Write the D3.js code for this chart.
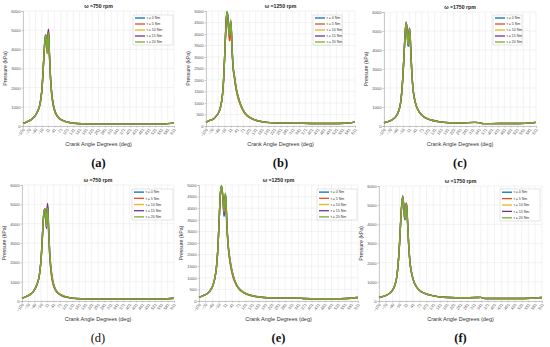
<!DOCTYPE html>
<html>
<head>
<meta charset="utf-8">
<script src="https://cdn.jsdelivr.net/npm/d3@7"></script>
<style>
  body { margin: 0; background: #fff; }
  text { font-family: "Liberation Sans", Arial, sans-serif; }
</style>
</head>
<body>
<div id="chart"></div>
<script>
// crank angle samples (deg), shared by every panel
var crank = [-109,-90,-70,-55,-45,-37,-30,-24,-18,-13,-8,-4,0,4,7,10,13,17,22,28,36,46,60,80,110,150,200,260,320,340,360,440,500,560,611];
var xTicks = [-109,-79,-49,-19,11,41,71,101,131,161,191,221,251,281,311,341,371,401,431,461,491,521,551,581,611];
var torques = ["\u03c4 = 0 Nm", "\u03c4 = 5 Nm", "\u03c4 = 10 Nm", "\u03c4 = 15 Nm", "\u03c4 = 20 Nm"];
var colors = ["#0072BD", "#D95319", "#EDB120", "#7E2F8E", "#77AC30"];

// (a) 750 rpm
var a_t0  = [140,220,330,480,640,820,1050,1400,2000,2900,3900,4500,4720,4250,3780,4550,4900,3700,2500,1650,1050,680,440,290,185,130,110,105,110,105,100,100,100,105,150];
var a_t5  = [140,220,330,480,640,820,1050,1400,2000,2900,3900,4500,4700,4200,3800,4650,4950,3650,2450,1600,1000,650,420,280,180,125,110,105,110,105,100,100,100,105,150];
var a_t10 = [140,220,330,480,640,820,1050,1400,2000,2900,3900,4520,4730,4280,3820,4600,4900,3750,2550,1680,1080,690,445,295,188,130,110,105,110,105,100,100,100,105,150];
var a_t15 = [140,220,330,480,640,820,1050,1400,2000,2900,3900,4560,4760,4350,3900,4800,5050,3850,2600,1700,1100,700,450,300,190,130,110,105,110,105,100,100,100,105,150];
var a_t20 = [140,220,330,480,640,820,1050,1400,2000,2900,3900,4550,4750,4300,3850,4600,4850,3800,2600,1700,1100,700,450,300,190,130,110,105,110,105,100,100,100,105,150];

// (b) 1250 rpm
var b_t0  = [170,240,330,480,640,900,1300,2000,3200,4300,4950,4800,4300,3900,4150,4550,4250,3350,2550,2150,1650,1250,870,540,330,205,145,130,140,135,120,110,110,120,170];
var b_t5  = [170,240,330,480,640,900,1300,2000,3200,4300,4940,4780,4200,3700,3750,4500,4200,3300,2500,2100,1600,1200,850,530,325,200,145,130,140,135,120,110,110,120,170];
var b_t10 = [170,240,330,480,640,900,1300,2000,3200,4300,4950,4800,4300,3950,4200,4580,4280,3380,2580,2180,1680,1280,880,550,335,208,145,130,140,135,120,110,110,120,170];
var b_t15 = [170,240,330,480,640,900,1300,2000,3200,4300,4960,4810,4320,3950,4200,4600,4300,3400,2600,2200,1700,1300,900,560,340,210,145,130,140,135,120,110,110,120,170];
var b_t20 = [170,240,330,480,640,900,1300,2000,3200,4300,4980,4820,4320,3950,4200,4600,4300,3400,2600,2200,1700,1300,900,560,340,210,145,130,140,135,120,110,110,120,170];

// (c) 1750 rpm
var c_t0  = [170,230,330,470,640,880,1250,1900,2900,4000,5000,5400,5050,4250,4200,4950,5050,4150,2950,2000,1400,1000,700,480,330,230,170,160,190,180,125,130,130,140,190];
var c_t5  = [170,230,330,470,640,880,1250,1900,2900,4000,5000,5420,5080,4350,4300,5000,5080,4200,3000,2000,1400,1000,700,480,330,230,170,160,190,180,125,130,130,140,190];
var c_t10 = [170,230,330,470,640,880,1250,1900,2900,4000,5000,5430,5090,4400,4300,5000,5100,4200,3000,2000,1400,1000,700,480,330,230,170,160,190,180,125,130,130,140,190];
var c_t15 = [170,230,330,470,640,880,1250,1900,2900,4000,5000,5480,5120,4450,4350,5050,5150,4250,3000,2000,1400,1000,700,480,330,230,170,160,190,180,125,130,130,140,190];
var c_t20 = [170,230,330,470,640,880,1250,1900,2900,4000,5000,5450,5100,4400,4300,5000,5100,4200,3000,2000,1400,1000,700,480,330,230,170,160,190,180,125,130,130,140,190];

// (d) 750 rpm
var d_t0  = [150,230,340,500,680,880,1150,1550,2250,3200,4200,4650,4750,4100,3750,4500,4850,3650,2450,1600,1000,650,420,280,180,125,110,105,110,105,110,100,100,105,140];
var d_t5  = [150,230,340,500,680,880,1150,1550,2250,3200,4200,4640,4730,4150,3850,4600,4900,3600,2400,1550,980,630,410,270,175,125,110,105,110,105,110,100,100,105,140];
var d_t10 = [150,230,340,500,680,880,1150,1550,2250,3200,4200,4650,4740,4200,3900,4600,4880,3700,2500,1650,1050,670,430,285,182,128,110,105,110,105,110,100,100,105,140];
var d_t15 = [150,230,340,500,680,880,1150,1550,2250,3200,4200,4680,4780,4300,3950,4800,5050,3800,2550,1700,1080,690,440,295,188,130,110,105,110,105,110,100,100,105,140];
var d_t20 = [150,230,340,500,680,880,1150,1550,2250,3200,4200,4680,4780,4300,3950,4600,4800,3800,2600,1750,1100,700,450,300,190,130,110,105,110,105,110,100,100,105,140];

// (e) 1250 rpm
var e_t0  = [160,230,330,500,700,1000,1450,2200,3400,4500,4950,4750,4300,3650,3800,4500,4300,3350,2500,1950,1450,1050,700,450,290,190,140,125,130,140,110,100,100,110,150];
var e_t5  = [160,230,330,500,700,1000,1450,2200,3400,4500,4940,4760,4320,3800,4000,4550,4300,3300,2450,1900,1400,1000,680,440,280,185,140,125,130,140,110,100,100,110,150];
var e_t10 = [160,230,330,500,700,1000,1450,2200,3400,4500,4950,4780,4350,3900,4100,4600,4350,3380,2520,1970,1470,1060,710,455,292,192,140,125,130,140,110,100,100,110,150];
var e_t15 = [160,230,330,500,700,1000,1450,2200,3400,4500,4960,4790,4360,3950,4150,4620,4370,3400,2550,2000,1500,1080,720,460,295,195,140,125,130,140,110,100,100,110,150];
var e_t20 = [160,230,330,500,700,1000,1450,2200,3400,4500,4980,4800,4380,3950,4150,4650,4380,3420,2580,2020,1520,1100,730,470,300,195,140,125,130,140,110,100,100,110,150];

// (f) 1750 rpm
var f_t0  = [180,240,340,480,650,900,1300,2000,3050,4200,5100,5400,4950,4250,4250,4950,5000,4100,2900,2000,1400,980,680,470,330,230,180,170,180,190,130,130,130,140,180];
var f_t5  = [180,240,340,480,650,900,1300,2000,3050,4200,5100,5420,4980,4350,4300,5000,5050,4150,2950,2000,1400,980,680,470,330,230,180,170,180,190,130,130,130,140,180];
var f_t10 = [180,240,340,480,650,900,1300,2000,3050,4200,5100,5430,5000,4400,4350,5000,5080,4180,2980,2000,1400,980,680,470,330,230,180,170,180,190,130,130,130,140,180];
var f_t15 = [180,240,340,480,650,900,1300,2000,3050,4200,5100,5500,5050,4450,4400,5050,5100,4200,3000,2000,1400,980,680,470,330,230,180,170,180,190,130,130,130,140,180];
var f_t20 = [180,240,340,480,650,900,1300,2000,3050,4200,5100,5450,5020,4400,4350,5000,5050,4200,3000,2000,1400,980,680,470,330,230,180,170,180,190,130,130,130,140,180];

var panels = [
    {cap: "(a)", title: "\u03c9 =750 rpm",  ymax: 6000, ystep: 1000, series: [a_t0, a_t5, a_t10, a_t15, a_t20]},
    {cap: "(b)", title: "\u03c9 =1250 rpm", ymax: 5000, ystep: 500,  series: [b_t0, b_t5, b_t10, b_t15, b_t20]},
    {cap: "(c)", title: "\u03c9 =1750 rpm", ymax: 6000, ystep: 1000, series: [c_t0, c_t5, c_t10, c_t15, c_t20]},
    {cap: "(d)", title: "\u03c9 =750 rpm",  ymax: 6000, ystep: 1000, series: [d_t0, d_t5, d_t10, d_t15, d_t20]},
    {cap: "(e)", title: "\u03c9 =1250 rpm", ymax: 5000, ystep: 500,  series: [e_t0, e_t5, e_t10, e_t15, e_t20]},
    {cap: "(f)", title: "\u03c9 =1750 rpm", ymax: 6000, ystep: 1000, series: [f_t0, f_t5, f_t10, f_t15, f_t20]}
];

// plot boxes [left, right, top, bottom] and legend boxes [x, y, w, h]
var boxes = [
    [23, 174, 11, 126], [206, 355, 11, 126], [384, 536, 12, 126],
    [22, 174, 185, 301], [199, 358, 185, 301], [379, 542, 186, 301]
];
var legendBoxes = [
    [133, 15, 40, 30], [313, 15, 29, 30], [493, 15, 29, 30],
    [132, 189, 41, 31], [317, 189, 40, 31], [500, 189, 40, 32]
];
var capBold = [true, true, true, false, true, true];

var svg = d3.select("#chart").append("svg")
    .attr("width", 550).attr("height", 347);

panels.forEach(function(p, i) {
    var b = boxes[i];
    var x = d3.scaleLinear().domain([-109, 611]).range([b[0], b[1]]);
    var y = d3.scaleLinear().domain([0, p.ymax]).range([b[3], b[2]]);
    var yTicks = d3.range(0, p.ymax + 1, p.ystep);
    var g = svg.append("g");

    // grid
    g.append("g").selectAll("line").data(xTicks).enter().append("line")
        .attr("x1", function(d) { return x(d); }).attr("x2", function(d) { return x(d); })
        .attr("y1", b[2]).attr("y2", b[3])
        .attr("stroke", "#e6e6e6").attr("stroke-width", 0.5);
    g.append("g").selectAll("line").data(yTicks).enter().append("line")
        .attr("y1", function(d) { return y(d); }).attr("y2", function(d) { return y(d); })
        .attr("x1", b[0]).attr("x2", b[1])
        .attr("stroke", "#e6e6e6").attr("stroke-width", 0.5);

    // axes
    var xAxis = d3.axisBottom(x).tickValues(xTicks).tickSize(1.5).tickFormat(d3.format("d"));
    var yAxis = d3.axisLeft(y).tickValues(yTicks).tickSize(1.5).tickFormat(d3.format("d"));
    var gx = g.append("g").attr("transform", "translate(0," + b[3] + ")").call(xAxis);
    var gy = g.append("g").attr("transform", "translate(" + b[0] + ",0)").call(yAxis);
    [gx, gy].forEach(function(ax) {
        ax.select(".domain").attr("stroke", "#9a9a9a").attr("stroke-width", 0.5);
        ax.selectAll(".tick line").attr("stroke", "#9a9a9a").attr("stroke-width", 0.5);
        ax.selectAll(".tick text").attr("fill", "#555").style("font-size", "4.2px")
            .style("font-family", "'Liberation Sans', Arial, sans-serif");
    });
    gy.selectAll(".tick text").attr("x", -2.5);
    gx.selectAll(".tick text")
        .attr("text-anchor", "end").attr("dy", 0).attr("y", 0)
        .attr("transform", "translate(1.5,3.5) rotate(-55)");

    // curves, first series underneath
    var line = d3.line()
        .x(function(d, k) { return x(crank[k]); })
        .y(function(d) { return y(d); })
        .curve(d3.curveMonotoneX);
    p.series.forEach(function(s, k) {
        g.append("path").datum(s).attr("d", line)
            .attr("fill", "none").attr("stroke", colors[k])
            .attr("stroke-width", 1.4).attr("stroke-linejoin", "round");
    });

    // titles
    var cx = (b[0] + b[1]) / 2;
    g.append("text").attr("x", cx).attr("y", b[2] - 3.5)
        .attr("text-anchor", "middle").style("font-size", "5.2px").style("font-weight", "bold")
        .attr("fill", "#222").text(p.title);
    g.append("text").attr("x", cx).attr("y", b[3] + 20)
        .attr("text-anchor", "middle").style("font-size", "5.5px").attr("fill", "#333")
        .text("Crank Angle Degrees (deg)");
    g.append("text")
        .attr("transform", "translate(" + (b[0] - 16.5) + "," + ((b[2] + b[3]) / 2) + ") rotate(-90)")
        .attr("text-anchor", "middle").style("font-size", "5.2px").attr("fill", "#333")
        .text("Pressure (kPa)");
    g.append("text").attr("x", cx).attr("y", b[3] + 41)
        .attr("text-anchor", "middle")
        .style("font-family", "'Liberation Serif', 'DejaVu Serif', serif")
        .style("font-size", "12.5px").style("font-weight", capBold[i] ? "bold" : "normal")
        .attr("fill", "#111").text(p.cap);

    // legend
    var lb = legendBoxes[i];
    var lg = g.append("g");
    lg.append("rect").attr("x", lb[0]).attr("y", lb[1]).attr("width", lb[2]).attr("height", lb[3])
        .attr("fill", "#fff").attr("stroke", "#bdbdbd").attr("stroke-width", 0.4);
    var rowH = lb[3] / torques.length;
    torques.forEach(function(t, k) {
        var ry = lb[1] + rowH * (k + 0.5);
        lg.append("line").attr("x1", lb[0] + 2).attr("x2", lb[0] + 12)
            .attr("y1", ry).attr("y2", ry)
            .attr("stroke", colors[k]).attr("stroke-width", 1.3);
        lg.append("text").attr("x", lb[0] + 13.5).attr("y", ry + 1.2)
            .style("font-size", "3.5px").attr("fill", "#333").text(t);
    });
});
</script>
</body>
</html>
